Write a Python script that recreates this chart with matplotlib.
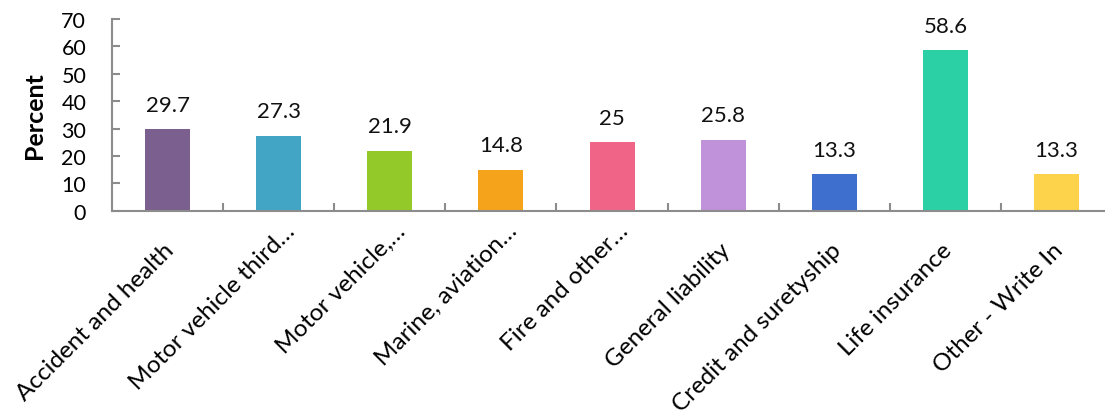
import matplotlib
matplotlib.use("Agg")
import matplotlib.pyplot as plt
from matplotlib.ticker import FixedLocator
from matplotlib.transforms import ScaledTranslation

categories = [
    "Accident and health",
    "Motor vehicle third\u2026",
    "Motor vehicle,\u2026",
    "Marine, aviation\u2026",
    "Fire and other\u2026",
    "General liability",
    "Credit and suretyship",
    "Life insurance",
    "Other - Write In",
]
values = [29.7, 27.3, 21.9, 14.8, 25, 25.8, 13.3, 58.6, 13.3]
value_labels = ["29.7", "27.3", "21.9", "14.8", "25", "25.8", "13.3", "58.6", "13.3"]
colors = ["#7B5F8E", "#42A5C5", "#93C928", "#F5A31B", "#F06587",
          "#C092D9", "#3E6FCF", "#2BD0A5", "#FCD34A"]
y_ticks = [0, 10, 20, 30, 40, 50, 60, 70]

AXIS_GREY = "#8C8C8C"
plt.rcParams["font.family"] = ["Lato", "DejaVu Sans"]

fig = plt.figure(figsize=(11.05, 4.14), dpi=100)
ax = fig.add_axes([0.1013, 0.4886, 0.9052, 0.463])

x = list(range(len(categories)))
ax.bar(x, values, width=0.405, color=colors, zorder=2)

for xi, v, lab in zip(x, values, value_labels):
    ax.annotate(lab, (xi, v), xytext=(0, 13.5), textcoords="offset points",
                ha="center", va="baseline", fontsize=16, color="#111111")

ax.set_xlim(-0.5, len(categories) - 0.5)
ax.set_ylim(0, 70)
ax.set_yticks(y_ticks)
ax.set_xticks(x)
ax.xaxis.set_minor_locator(FixedLocator([i + 0.5 for i in x]))
ax.tick_params(axis="x", which="major", length=0, pad=0)
ax.tick_params(axis="x", which="minor", length=6, direction="in",
               color=AXIS_GREY, width=1.5)
ax.tick_params(axis="y", length=6, direction="in", color=AXIS_GREY,
               width=1.5, labelsize=15.5, pad=18.5)
ax.set_xticklabels(categories, rotation=45, ha="right", va="baseline",
                   rotation_mode="anchor", fontsize=17.5)

# Category labels hang below the axis; shortened ones (ending in an
# ellipsis) sit a little further along their slant.
for lab in ax.get_xticklabels():
    if lab.get_text().endswith("\u2026"):
        dx, dy = 17, 21
    else:
        dx, dy = 8, 40
    lab.set_transform(lab.get_transform()
                      + ScaledTranslation(dx / 100, -dy / 100, fig.dpi_scale_trans))

ax.set_ylabel("Percent", fontsize=18, fontweight="bold", labelpad=11)

for side in ("top", "right"):
    ax.spines[side].set_visible(False)
for side in ("left", "bottom"):
    ax.spines[side].set_color(AXIS_GREY)
    ax.spines[side].set_linewidth(1.5)

fig.savefig("out.png", dpi=100)
